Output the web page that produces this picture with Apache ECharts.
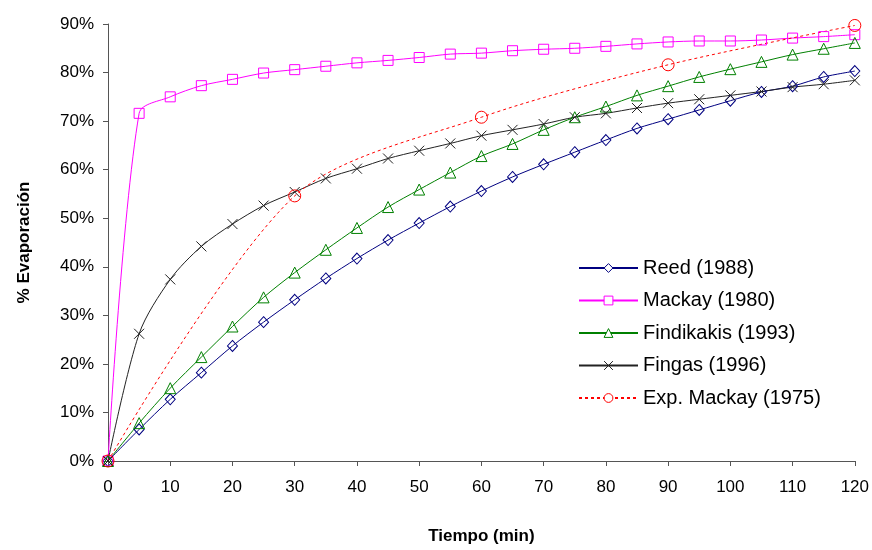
<!DOCTYPE html>
<html>
<head>
<meta charset="utf-8">
<script src="https://cdn.jsdelivr.net/npm/echarts@6/dist/echarts.min.js"></script>
<style>html,body{margin:0;padding:0;background:#fff}#c{width:872px;height:550px}</style>
</head>
<body>
<div id="c"></div>
<script>
const times = [0,5,10,15,20,25,30,35,40,45,50,55,60,65,70,75,80,85,90,95,100,105,110,115,120];
const reed = [0,6.5,12.7,18.2,23.7,28.6,33.2,37.6,41.7,45.5,49.0,52.4,55.6,58.5,61.1,63.6,66.1,68.5,70.4,72.3,74.2,76.0,77.2,79.1,80.3];
const mackay = [0,71.6,75.0,77.3,78.6,79.9,80.6,81.3,82.0,82.5,83.1,83.8,84.0,84.5,84.8,85.0,85.4,85.9,86.3,86.5,86.5,86.7,87.1,87.4,87.8];
const findikakis = [0,7.8,15.0,21.4,27.7,33.7,38.8,43.5,48.0,52.3,55.9,59.4,62.8,65.3,68.2,70.8,73.0,75.3,77.2,79.1,80.7,82.2,83.7,84.9,86.1];
const fingas = [0,26.2,37.4,44.2,48.8,52.6,55.4,58.2,60.2,62.3,63.9,65.4,67.0,68.2,69.4,70.8,71.6,72.7,73.7,74.5,75.3,76.1,77.0,77.6,78.4];
const expTimes = [0,30,60,90,120];
const expMackay = [0,54.6,70.8,81.6,89.7];
const names = ['Reed (1988)','Mackay (1980)','Findikakis (1993)','Fingas (1996)','Exp. Mackay (1975)'];
const colors = ['#000080','#FF00FF','#008000','#222222','#FF0000'];

const pair = (xs, ys) => xs.map((x,i)=>[x, ys[i]]);
const font = 'Liberation Sans, Arial, sans-serif';
function ser(name, data, color, symbol, size, dashed){
  return {
    name, type:'line', data, smooth:0.3, symbol, symbolSize:size,
    showAllSymbol:true,
    lineStyle:{color, width:1, type: dashed ? [3,3] : 'solid'},
    itemStyle:{color:'rgba(255,255,255,0)', borderColor:color, borderWidth:1},
    emphasis:{disabled:true}, animation:false, z: 2
  };
}
const chart = echarts.init(document.getElementById('c'), null, {renderer:'canvas'});
chart.setOption({
  animation:false,
  backgroundColor:'#fff',
  grid:{left:108, right:16, top:24, bottom:85, containLabel:false},
  legend:{
    orient:'vertical', left:573, top:253, itemWidth:59, itemHeight:11, itemGap:12.5,
    textStyle:{fontFamily:font, fontSize:20, color:'#000'},
    data:names.map((n,i)=>({name:n, itemStyle:{color:'#fff', borderColor:colors[i], borderWidth:1}}))
  },
  xAxis:{
    type:'value', min:0, max:120, interval:10,
    name:'Tiempo (min)', nameLocation:'middle', nameGap:67,
    nameTextStyle:{fontFamily:font, fontSize:17, fontWeight:'bold', color:'#000'},
    axisLine:{show:true, lineStyle:{color:'#555', width:1}},
    axisTick:{show:true, length:5, lineStyle:{color:'#555'}},
    axisLabel:{fontFamily:font, fontSize:17, color:'#000', margin:18},
    splitLine:{show:false}
  },
  yAxis:{
    type:'value', min:0, max:90, interval:10,
    name:'% Evaporación', nameLocation:'middle', nameGap:75,
    nameTextStyle:{fontFamily:font, fontSize:17, fontWeight:'bold', color:'#000'},
    axisLine:{show:true, lineStyle:{color:'#555', width:1}},
    axisTick:{show:true, length:5, lineStyle:{color:'#555'}},
    axisLabel:{fontFamily:font, fontSize:17, color:'#000', margin:14, formatter:'{value}%'},
    splitLine:{show:false}
  },
  series:[
    ser(names[0], pair(times, reed), colors[0], 'diamond', [10,11]),
    ser(names[1], pair(times, mackay), colors[1], 'rect', 10),
    ser(names[2], pair(times, findikakis), colors[2], 'triangle', 11),
    ser(names[3], pair(times, fingas), colors[3], 'path://M0,0L10,10M0,10L10,0', 10),
    ser(names[4], pair(expTimes, expMackay), colors[4], 'circle', 12, true)
  ]
});
</script>
</body>
</html>
